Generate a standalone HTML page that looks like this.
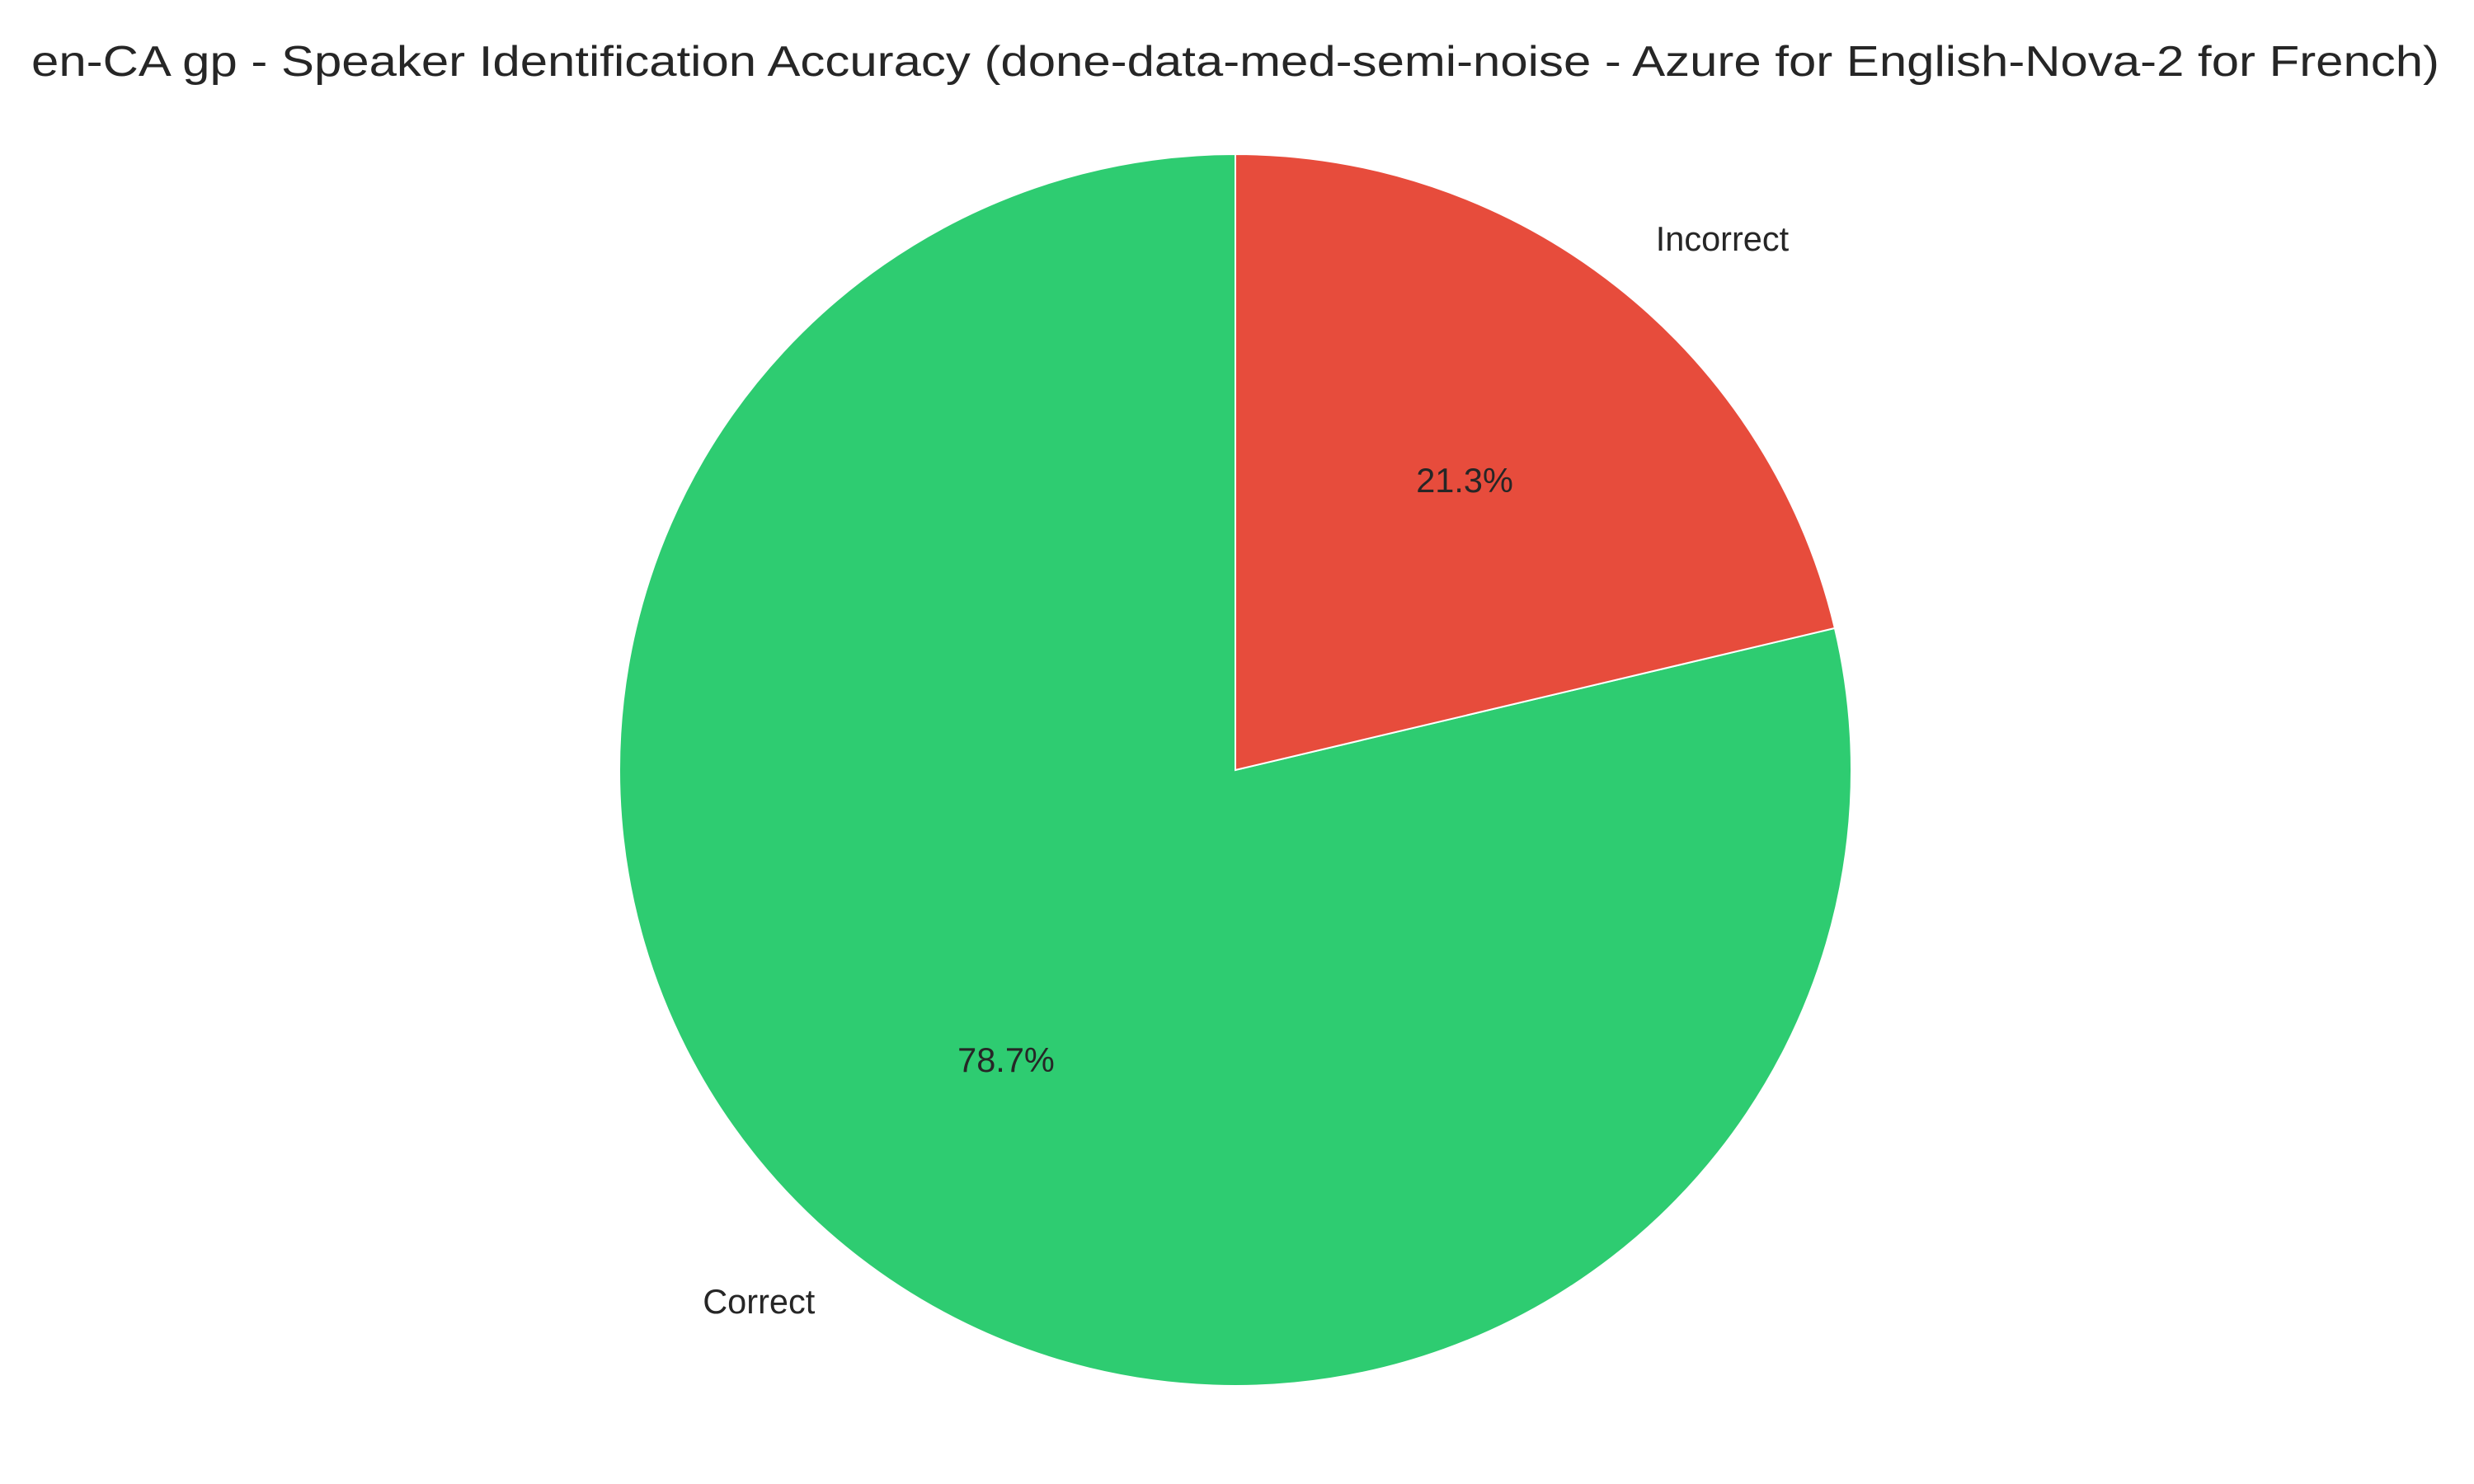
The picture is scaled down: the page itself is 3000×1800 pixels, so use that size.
<!DOCTYPE html>
<html>
<head>
<meta charset="utf-8">
<style>
  html,body{margin:0;padding:0;background:#fff;}
  svg{display:block;}
  text{font-family:"Liberation Sans","DejaVu Sans",sans-serif;fill:#262626;}
</style>
</head>
<body>
<svg id="chart" width="3000" height="1800" viewBox="0 0 3000 1800" xmlns="http://www.w3.org/2000/svg">
  <rect width="3000" height="1800" fill="#ffffff"/>
  <text x="1498" y="92" font-size="52" text-anchor="middle" textLength="2920" lengthAdjust="spacingAndGlyphs">en-CA gp - Speaker Identification Accuracy (done-data-med-semi-noise - Azure for English-Nova-2 for French)</text>
  <g id="slices"></g>
  <g id="labels"></g>
</svg>
<script>
const categories = ["Correct", "Incorrect"];
const values = [78.7, 21.3];
const colors = ["#2ecc71", "#e74c3c"];

const cx = 1498, cy = 934, R = 747;
const NS = "http://www.w3.org/2000/svg";
const slicesG = document.getElementById("slices");
const labelsG = document.getElementById("labels");
const total = values.reduce((a, b) => a + b, 0);
let start = 90;
function pt(angDeg, r) {
  const a = angDeg * Math.PI / 180;
  return [cx + r * Math.cos(a), cy - r * Math.sin(a)];
}
values.forEach((v, i) => {
  const sweep = 360 * v / total;
  const end = start + sweep;
  const [x1, y1] = pt(start, R);
  const [x2, y2] = pt(end, R);
  const large = sweep > 180 ? 1 : 0;
  const path = document.createElementNS(NS, "path");
  path.setAttribute("d", `M${cx},${cy} L${x1},${y1} A${R},${R} 0 ${large} 0 ${x2},${y2} Z`);
  path.setAttribute("fill", colors[i]);
  path.setAttribute("stroke", "#ffffff");
  path.setAttribute("stroke-width", "2");
  
  
  slicesG.appendChild(path);

  const mid = start + sweep / 2;
  const [lx, ly] = pt(mid, R * 1.1);
  const lab = document.createElementNS(NS, "text");
  lab.setAttribute("x", lx);
  lab.setAttribute("y", ly);
  lab.setAttribute("font-size", "41.5");
  lab.setAttribute("dominant-baseline", "central");
  lab.setAttribute("text-anchor", lx >= cx ? "start" : "end");
  lab.textContent = categories[i];
  
  
  labelsG.appendChild(lab);

  const [px, py] = pt(mid, R * 0.6);
  const pct = document.createElementNS(NS, "text");
  pct.setAttribute("x", px);
  pct.setAttribute("y", py);
  pct.setAttribute("font-size", "41.5");
  pct.setAttribute("dominant-baseline", "central");
  pct.setAttribute("text-anchor", "middle");
  pct.textContent = (100 * v / total).toFixed(1) + "%";
  
  
  labelsG.appendChild(pct);

  start = end;
});
</script>
</body>
</html>
